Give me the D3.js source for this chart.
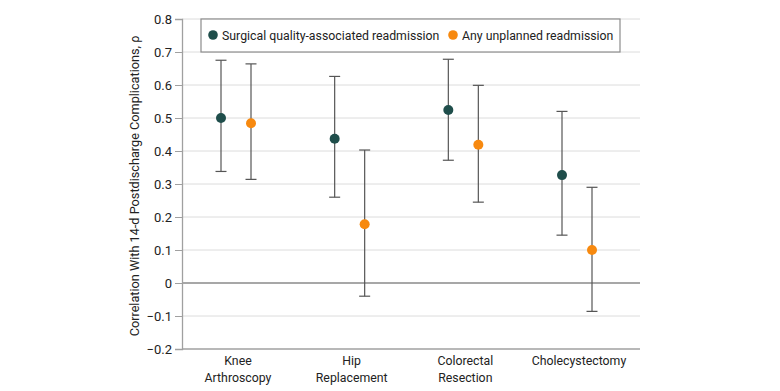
<!DOCTYPE html>
<html>
<head>
<meta charset="utf-8">
<script src="https://cdn.jsdelivr.net/npm/d3@7"></script>
<style>
  body { margin:0; background:#fff; }
  text { font-family: Roboto, "Liberation Sans", sans-serif; fill:#222; }
</style>
</head>
<body>
<svg id="chart" width="780" height="391"></svg>
<script>
var categories = ["Knee Arthroscopy", "Hip Replacement", "Colorectal Resection", "Cholecystectomy"];
var catLines = [["Knee", "Arthroscopy"], ["Hip", "Replacement"], ["Colorectal", "Resection"], ["Cholecystectomy"]];
var seriesNames = ["Surgical quality-associated readmission", "Any unplanned readmission"];
var surgicalVal = [0.50, 0.437, 0.524, 0.327];
var surgicalLow = [0.338, 0.26, 0.372, 0.145];
var surgicalHigh = [0.675, 0.626, 0.678, 0.52];
var anyVal = [0.484, 0.178, 0.419, 0.10];
var anyLow = [0.314, -0.04, 0.245, -0.086];
var anyHigh = [0.664, 0.403, 0.599, 0.29];
var yTicks = [-0.2, -0.1, 0, 0.1, 0.2, 0.3, 0.4, 0.5, 0.6, 0.7, 0.8];
var colors = ["#1f4e4b", "#f7890f"];

var svg = d3.select("#chart");
var plotL = 182, plotR = 640, plotT = 19, plotB = 349;
var fs = "12.3px";

var y = d3.scaleLinear().domain([-0.2, 0.8]).range([plotB, plotT]);
var x = d3.scalePoint().domain(categories).range([236, 577]);
var off = [-15, 15];

// gridlines
svg.append("g").selectAll("line").data(yTicks).enter().append("line")
  .attr("x1", plotL).attr("x2", plotR)
  .attr("y1", function(d){ return y(d); }).attr("y2", function(d){ return y(d); })
  .attr("stroke", function(d){ return d === 0 ? "#8a8a8a" : (d === -0.2 ? "#a0a0a0" : "#dcdcdc"); })
  .attr("stroke-width", function(d){ return d === 0 || d === -0.2 ? 1.3 : 1; });

// y axis
var yAxis = d3.axisLeft(y).tickValues(yTicks).tickSize(7).tickPadding(3)
  .tickFormat(function(d){ return d === 0 ? "0" : d3.format(".1f")(d); });
var gy = svg.append("g").attr("transform", "translate(" + plotL + ",0)").call(yAxis);
gy.select(".domain").attr("stroke", "#a0a0a0").attr("stroke-width", 1.3);
gy.selectAll(".tick line").attr("stroke", "#a0a0a0");
gy.selectAll(".tick text").style("font-family", "Roboto, sans-serif").style("font-size", "13px").attr("fill", "#333");

svg.append("text")
  .attr("transform", "translate(139," + ((plotT + plotB) / 2 + 2) + ") rotate(-90)")
  .attr("text-anchor", "middle").style("font-size", "12.7px")
  .text("Correlation With 14-d Postdischarge Complications, \u03c1");

// x labels
categories.forEach(function(c, i){
  var t = svg.append("text").attr("text-anchor", "middle").style("font-size", fs)
    .attr("x", x(c) + 2).attr("y", 365);
  catLines[i].forEach(function(line, j){
    t.append("tspan").attr("x", x(c) + 2).attr("dy", j === 0 ? 0 : 17).text(line);
  });
});

// error bars and points
var series = [
  {val: surgicalVal, lo: surgicalLow, hi: surgicalHigh},
  {val: anyVal, lo: anyLow, hi: anyHigh}
];
series.forEach(function(s, k){
  var g = svg.append("g");
  categories.forEach(function(c, i){
    var cx = x(c) + off[k];
    g.append("line").attr("x1", cx).attr("x2", cx).attr("y1", y(s.lo[i])).attr("y2", y(s.hi[i]))
      .attr("stroke", "#555").attr("stroke-width", 1.2);
    [s.lo[i], s.hi[i]].forEach(function(v){
      g.append("line").attr("x1", cx - 5.5).attr("x2", cx + 5.5).attr("y1", y(v)).attr("y2", y(v))
        .attr("stroke", "#555").attr("stroke-width", 1.2);
    });
    g.append("circle").attr("cx", cx).attr("cy", y(s.val[i])).attr("r", 5).attr("fill", colors[k]);
  });
});

// legend
var lg = svg.append("g");
lg.append("rect").attr("x", 201).attr("y", 19).attr("width", 419).attr("height", 33)
  .attr("fill", "#fff").attr("stroke", "#8c8c8c").attr("stroke-width", 1.2);
var legX = [213, 453];
seriesNames.forEach(function(n, k){
  lg.append("circle").attr("cx", legX[k]).attr("cy", 35).attr("r", 4.8).attr("fill", colors[k]);
  lg.append("text").attr("x", legX[k] + 9).attr("y", 39.5).style("font-size", fs).text(n);
});
</script>
</body>
</html>
